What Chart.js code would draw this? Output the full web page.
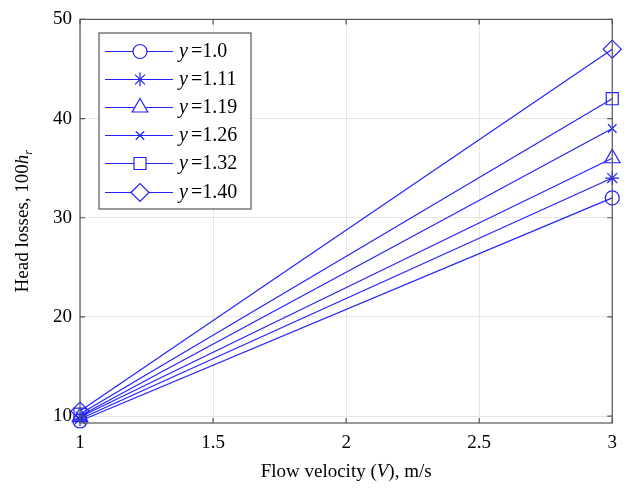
<!DOCTYPE html>
<html>
<head>
<meta charset="utf-8">
<script src="https://cdn.jsdelivr.net/npm/chart.js@4.4.1/dist/chart.umd.min.js"></script>
<style>
  html, body { margin: 0; padding: 0; background: #fff; }
  #wrap { width: 626px; height: 492px; }
</style>
</head>
<body>
<div id="wrap"><canvas id="plot"></canvas></div>
<script>
// data
const velocity = [1, 3];
const yLabels = ['1.0', '1.11', '1.19', '1.26', '1.32', '1.40'];
const loss_10 = [9.5, 32];
const loss_111 = [9.7, 34];
const loss_119 = [9.9, 36];
const loss_126 = [10.0, 39];
const loss_132 = [10.2, 42];
const loss_140 = [10.5, 47];
const xTicks = [1, 1.5, 2, 2.5, 3];
const yTicks = [10, 20, 30, 40, 50];

const markers = ['circle', 'star', 'triangle', 'crossRot', 'rect', 'rectRot'];
const sizes = [7, 7, 9, 6, 8.5, 9];
const series = [loss_10, loss_111, loss_119, loss_126, loss_132, loss_140];
const blue = '#2222ff';
const serif = "'Liberation Serif', 'Times New Roman', serif";

const datasets = series.map((vals, i) => ({
	label: 'y = ' + yLabels[i],
	data: velocity.map((v, j) => ({x: v, y: vals[j]})),
	borderColor: blue,
	backgroundColor: 'rgba(0,0,0,0)',
	borderWidth: 1.2,
	pointStyle: markers[i],
	pointRadius: sizes[i],
	pointBorderColor: blue,
	pointBorderWidth: 1.2,
	pointBackgroundColor: 'rgba(0,0,0,0)',
	fill: false,
	clip: false
}))

// box, inward ticks, titles and legend
const extras = {
	id: 'extras',
	afterDatasetsDraw(chart) {
		const ctx = chart.ctx
		const a = chart.chartArea
		const xs = chart.scales.x, ys = chart.scales.y
		ctx.save()
		ctx.strokeStyle = '#555'
		ctx.lineWidth = 1.2
		ctx.strokeRect(a.left, a.top, a.right - a.left, a.bottom - a.top)
		ctx.beginPath()
		xTicks.forEach(t => {
			const px = xs.getPixelForValue(t)
			ctx.moveTo(px, a.bottom); ctx.lineTo(px, a.bottom - 5)
			ctx.moveTo(px, a.top); ctx.lineTo(px, a.top + 5)
		})
		yTicks.forEach(t => {
			const py = ys.getPixelForValue(t)
			ctx.moveTo(a.left, py); ctx.lineTo(a.left + 5, py)
			ctx.moveTo(a.right, py); ctx.lineTo(a.right - 5, py)
		})
		ctx.stroke()

		// legend
		const lx = 99, ly = 33, lw = 152, lh = 176
		ctx.fillStyle = '#fff'
		ctx.fillRect(lx, ly, lw, lh)
		ctx.strokeStyle = '#555'
		ctx.lineWidth = 1.2
		ctx.strokeRect(lx, ly, lw, lh)
		const rows = [51.5, 79.5, 107.5, 135.5, 163.5, 192.5]
		rows.forEach((ry, i) => {
			ctx.strokeStyle = blue
			ctx.lineWidth = 1.2
			ctx.beginPath()
			ctx.moveTo(105, ry); ctx.lineTo(173, ry)
			ctx.stroke()
			ctx.strokeStyle = blue
			ctx.fillStyle = '#fff'
			Chart.helpers.drawPoint(ctx, {pointStyle: markers[i], radius: sizes[i], borderWidth: 1.2}, 140, ry)
			ctx.fillStyle = '#000'
			ctx.textBaseline = 'middle'
			ctx.textAlign = 'left'
			ctx.font = 'italic 20px ' + serif
			ctx.fillText('y', 179, ry)
			ctx.font = '20px ' + serif
			ctx.fillText('=' + yLabels[i], 191, ry)
		})

		// axis titles
		ctx.fillStyle = '#000'
		ctx.textBaseline = 'alphabetic'
		let parts = [['Flow velocity (', ''], ['V', 'italic '], ['), m/s', '']]
		let total = 0
		parts.forEach(p => { ctx.font = p[1] + '19px ' + serif; total += ctx.measureText(p[0]).width })
		let cx = (a.left + a.right) / 2 - total / 2
		parts.forEach(p => {
			ctx.font = p[1] + '19px ' + serif
			ctx.textAlign = 'left'
			ctx.fillText(p[0], cx, 477)
			cx += ctx.measureText(p[0]).width
		})

		ctx.translate(28, (a.top + a.bottom) / 2)
		ctx.rotate(-Math.PI / 2)
		parts = [['Head losses, 100', '19px '], ['h', 'italic 19px '], ['r', 'italic 12px ']]
		total = 0
		parts.forEach(p => { ctx.font = p[1] + serif; total += ctx.measureText(p[0]).width })
		cx = -total / 2
		parts.forEach((p, k) => {
			ctx.font = p[1] + serif
			ctx.fillText(p[0], cx, k == 2 ? 4 : 0)
			cx += ctx.measureText(p[0]).width
		})
		ctx.restore()
	}
}

new Chart('plot', {
	type: 'line',
	data: { datasets: datasets },
	plugins: [extras],
	options: {
		responsive: true,
		maintainAspectRatio: false,
		animation: false,
		layout: { padding: { left: 0, right: 12, top: 15, bottom: 0 } },
		plugins: { legend: { display: false }, tooltip: { enabled: false } },
		scales: {
			x: {
				type: 'linear', min: 1, max: 3,
				afterBuildTicks: s => { s.ticks = xTicks.map(v => ({value: v})) },
				afterFit: s => { s.height = 69 },
				grid: { color: '#e6e6e6', drawTicks: false, lineWidth: 1 },
				border: { display: false },
				ticks: { color: '#000', padding: 9, maxRotation: 0, font: { family: serif, size: 19 },
					callback: v => String(v) }
			},
			y: {
				min: 9.3, max: 50,
				afterBuildTicks: s => { s.ticks = yTicks.map(v => ({value: v})) },
				afterFit: s => { s.width = 80 },
				grid: { color: '#e6e6e6', drawTicks: false, lineWidth: 1 },
				border: { display: false },
				ticks: { color: '#000', padding: 8, font: { family: serif, size: 19 } }
			}
		}
	}
})
</script>
</body>
</html>
